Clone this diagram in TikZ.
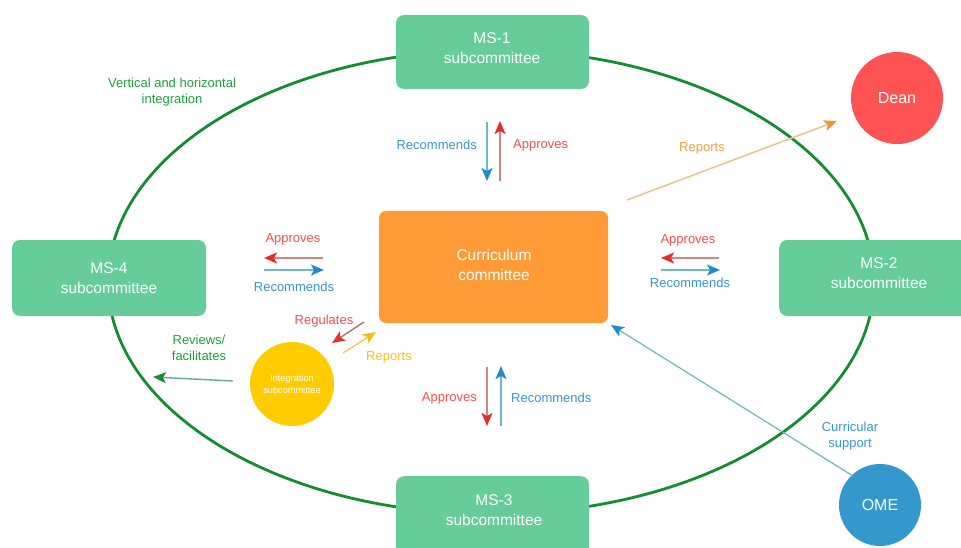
\documentclass[tikz,border=0pt]{standalone}
\usepackage{fontspec}
\setmainfont{Liberation Sans}
\usetikzlibrary{arrows.meta}
\definecolor{boxgreen}{RGB}{102,204,153}
\definecolor{ringgreen}{RGB}{20,140,50}
\definecolor{ccorange}{RGB}{255,155,55}
\definecolor{deanred}{RGB}{255,82,82}
\definecolor{omeblue}{RGB}{52,152,204}
\definecolor{intyellow}{RGB}{255,204,0}
\definecolor{txtred}{RGB}{240,80,80}
\definecolor{txtblue}{RGB}{55,150,205}
\definecolor{txtgreen}{RGB}{30,160,60}
\definecolor{txtorange}{RGB}{245,160,60}
\definecolor{txtyellow}{RGB}{245,195,20}
\definecolor{shaftred}{RGB}{215,130,130}
\definecolor{headred}{RGB}{230,45,45}
\definecolor{shaftblue}{RGB}{110,185,200}
\definecolor{headblue}{RGB}{35,140,200}
\definecolor{shafttan}{RGB}{232,195,140}
\definecolor{headtan}{RGB}{235,150,50}
\definecolor{shaftyellow}{RGB}{245,200,90}
\definecolor{headyellow}{RGB}{245,190,20}
\definecolor{shaftgreen}{RGB}{100,170,140}
\definecolor{headgreen}{RGB}{20,140,60}
\tikzset{
  subbox/.style={draw=none, fill=boxgreen, rounded corners=8pt},
  boxtext/.style={text=white, align=center, font=\fontsize{15.5}{20}\selectfont},
  lbl/.style={font=\fontsize{13}{16}\selectfont, align=center, inner sep=0pt},
  tip/.style={-{Stealth[length=13pt,width=11pt,inset=3pt,color=#1]}},
  redarrow/.style={draw=shaftred, line width=1.4pt, tip=headred},
  bluearrow/.style={draw=shaftblue, line width=1.4pt, tip=headblue},
}
\begin{document}
\begin{tikzpicture}[x=1pt,y=-1pt]
\useasboundingbox (0,0) rectangle (961,548);
% integration ring
\draw[ringgreen, line width=2.8pt] (491,282) ellipse [x radius=383, y radius=232];
% boxes
\node[subbox, minimum width=193pt, minimum height=74pt] (ms1) at (492.5,52) {};
\node[boxtext] (ms1t) at (492,48) {MS-1\\subcommittee};
\node[subbox, minimum width=194pt, minimum height=76pt] (ms4) at (109,278) {};
\node[boxtext] (ms4t) at (109,278) {MS-4\\subcommittee};
\node[subbox, minimum width=190pt, minimum height=76pt, anchor=west] (ms2) at (779,278) {};
\node[boxtext] (ms2t) at (879,273) {MS-2\\subcommittee};
\node[subbox, minimum width=193pt, minimum height=82pt, anchor=north] (ms3) at (492.5,476) {};
\node[boxtext] (ms3t) at (494,510) {MS-3\\subcommittee};
\node[draw=none, fill=ccorange, rounded corners=7pt, minimum width=229pt, minimum height=112pt] (cc) at (493.5,267) {};
\node[boxtext] (cct) at (494,265) {Curriculum\\committee};
% circles
\node[circle, fill=deanred, minimum size=92pt, text=white, font=\fontsize{16}{19}\selectfont] (dean) at (897,98) {Dean};
\node[circle, fill=omeblue, minimum size=82pt, text=white, font=\fontsize{16}{19}\selectfont] (ome) at (880,505) {OME};
\node[circle, fill=intyellow, minimum size=84pt, text=white, align=center, font=\fontsize{9.2}{12}\selectfont, inner sep=0pt] (integ) at (292,384) {Integration\\subcommittee};
% coordinates for arrow ends
\coordinate (t1) at (487,122); \coordinate (t2) at (487,181);
\coordinate (t3) at (500,181); \coordinate (t4) at (500,121);
\coordinate (l1) at (323,258); \coordinate (l2) at (264,258);
\coordinate (l3) at (264,270); \coordinate (l4) at (324,270);
\coordinate (r1) at (719,258); \coordinate (r2) at (661,258);
\coordinate (r3) at (661,270); \coordinate (r4) at (720,270);
\coordinate (b1) at (487,367); \coordinate (b2) at (487,426);
\coordinate (b3) at (501,426); \coordinate (b4) at (501,366);
\coordinate (g1) at (364,322); \coordinate (g2) at (332,343);
\coordinate (y1) at (343,353); \coordinate (y2) at (376,332);
\coordinate (d1) at (627,200); \coordinate (d2) at (837,121);
\coordinate (o1) at (853,476); \coordinate (o2) at (611,325);
\coordinate (f1) at (233,381); \coordinate (f2) at (153,377);
% arrows
\draw[bluearrow] (t1) -- (t2);
\draw[redarrow] (t3) -- (t4);
\draw[redarrow] (l1) -- (l2);
\draw[bluearrow] (l3) -- (l4);
\draw[redarrow] (r1) -- (r2);
\draw[bluearrow] (r3) -- (r4);
\draw[redarrow] (b1) -- (b2);
\draw[bluearrow] (b3) -- (b4);
\draw[draw=shaftred!85!black, line width=1.4pt, tip=headred] (g1) -- (g2);
\draw[draw=shaftyellow, line width=1.4pt, tip=headyellow] (y1) -- (y2);
\draw[draw=shafttan, line width=1.5pt, tip=headtan] (d1) -- (d2);
\draw[draw=shaftblue!90!gray, line width=1.2pt, tip=headblue] (o1) -- (o2);
\draw[draw=shaftgreen, line width=1.4pt, tip=headgreen] (f1) -- (f2);
% labels
\node[lbl, text=txtblue, anchor=east] (lt1) at (477,145) {Recommends};
\node[lbl, text=txtred, anchor=west] (lt2) at (513,145) {Approves};
\node[lbl, text=txtred] (ll1) at (293,239) {Approves};
\node[lbl, text=txtblue] (ll2) at (294,287) {Recommends};
\node[lbl, text=txtred] (lr1) at (688,240) {Approves};
\node[lbl, text=txtblue] (lr2) at (690,283) {Recommends};
\node[lbl, text=txtred, anchor=east] (lb1) at (477,398) {Approves};
\node[lbl, text=txtblue, anchor=west] (lb2) at (511,398) {Recommends};
\node[lbl, text=txtred] (lg) at (324,321) {Regulates};
\node[lbl, text=txtyellow] (ly) at (389,357) {Reports};
\node[lbl, text=txtorange] (ld) at (702,148) {Reports};
\node[lbl, text=txtblue] (lo) at (850,436) {Curricular\\support};
\node[lbl, text=txtgreen] (lf) at (199,348) {Reviews/\\facilitates};
\node[lbl, text=txtgreen] (lv) at (172,92) {Vertical and horizontal\\integration};
\end{tikzpicture}
\end{document}
